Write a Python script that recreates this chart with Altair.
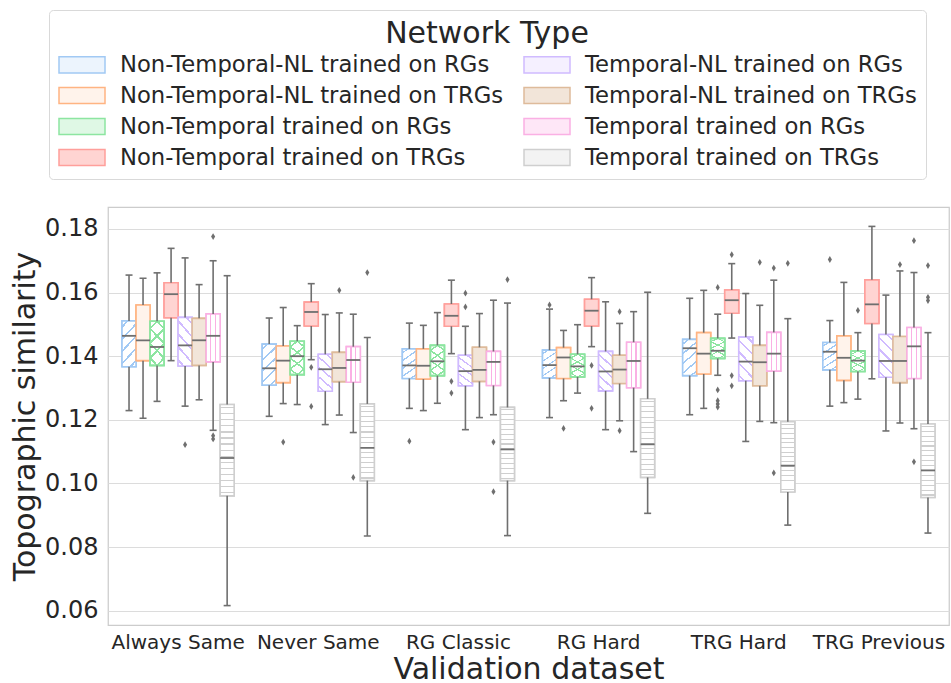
import altair as alt
import pandas as pd

DATASETS = ["Always Same", "Never Same", "RG Classic", "RG Hard", "TRG Hard", "TRG Previous"]
NETWORKS = [
    "Non-Temporal-NL trained on RGs",
    "Non-Temporal-NL trained on TRGs",
    "Non-Temporal trained on RGs",
    "Non-Temporal trained on TRGs",
    "Temporal-NL trained on RGs",
    "Temporal-NL trained on TRGs",
    "Temporal trained on RGs",
    "Temporal trained on TRGs",
]
COLORS = ["#a1c9f4", "#ffb482", "#8de5a1", "#ff9f9b", "#d0bbff", "#debb9b", "#fab0e4", "#cfcfcf"]

# rows: networks (order above), columns: datasets (order above)
WHISKER_LOW = [
    [0.1229, 0.1211, 0.1236, 0.1207, 0.1216, 0.1243],
    [0.1205, 0.1251, 0.1229, 0.1260, 0.1236, 0.1254],
    [0.1258, 0.1248, 0.1252, 0.1284, 0.1340, 0.1265],
    [0.1386, 0.1389, 0.1408, 0.1430, 0.1457, 0.1329],
    [0.1243, 0.1185, 0.1169, 0.1169, 0.1132, 0.1165],
    [0.1263, 0.1215, 0.1207, 0.1197, 0.1195, 0.1190],
    [0.1167, 0.1160, 0.1216, 0.1100, 0.1191, 0.1172],
    [0.0616, 0.0835, 0.0836, 0.0906, 0.0869, 0.0844],
]
Q1 = [
    [0.1367, 0.1309, 0.1330, 0.1332, 0.1339, 0.1357],
    [0.1386, 0.1317, 0.1328, 0.1330, 0.1344, 0.1324],
    [0.1371, 0.1342, 0.1339, 0.1335, 0.1393, 0.1352],
    [0.1521, 0.1495, 0.1494, 0.1495, 0.1535, 0.1503],
    [0.1369, 0.1290, 0.1307, 0.1291, 0.1323, 0.1334],
    [0.1371, 0.1320, 0.1321, 0.1314, 0.1307, 0.1317],
    [0.1382, 0.1318, 0.1308, 0.1301, 0.1353, 0.1330],
    [0.0961, 0.1009, 0.1009, 0.1019, 0.0973, 0.0956],
]
MEDIAN = [
    [0.1464, 0.1362, 0.1371, 0.1372, 0.1425, 0.1414],
    [0.1450, 0.1386, 0.1370, 0.1396, 0.1408, 0.1395],
    [0.1429, 0.1400, 0.1384, 0.1368, 0.1417, 0.1386],
    [0.1595, 0.1539, 0.1527, 0.1543, 0.1576, 0.1563],
    [0.1434, 0.1359, 0.1353, 0.1352, 0.1383, 0.1385],
    [0.1450, 0.1363, 0.1357, 0.1358, 0.1381, 0.1385],
    [0.1464, 0.1388, 0.1382, 0.1385, 0.1408, 0.1431],
    [0.1080, 0.1112, 0.1107, 0.1123, 0.1056, 0.1041],
]
Q3 = [
    [0.1511, 0.1438, 0.1423, 0.1419, 0.1453, 0.1443],
    [0.1561, 0.1432, 0.1423, 0.1427, 0.1474, 0.1464],
    [0.1510, 0.1447, 0.1434, 0.1406, 0.1456, 0.1416],
    [0.1631, 0.1570, 0.1564, 0.1579, 0.1608, 0.1640],
    [0.1522, 0.1406, 0.1403, 0.1415, 0.1460, 0.1468],
    [0.1519, 0.1412, 0.1428, 0.1403, 0.1434, 0.1462],
    [0.1533, 0.1430, 0.1415, 0.1444, 0.1475, 0.1490],
    [0.1248, 0.1250, 0.1239, 0.1266, 0.1194, 0.1187],
]
WHISKER_HIGH = [
    [0.1655, 0.1520, 0.1504, 0.1548, 0.1582, 0.1512],
    [0.1645, 0.1553, 0.1497, 0.1481, 0.1607, 0.1632],
    [0.1662, 0.1496, 0.1537, 0.1499, 0.1532, 0.1474],
    [0.1739, 0.1628, 0.1639, 0.1647, 0.1691, 0.1808],
    [0.1709, 0.1531, 0.1494, 0.1571, 0.1597, 0.1592],
    [0.1625, 0.1536, 0.1534, 0.1503, 0.1560, 0.1668],
    [0.1700, 0.1532, 0.1576, 0.1540, 0.1639, 0.1663],
    [0.1653, 0.1459, 0.1567, 0.1601, 0.1518, 0.1474],
]

# outliers: dataset index, network index, value
OUT_DATASET = [0, 0, 0, 0,
               1, 1, 1, 1, 1, 1,
               2, 2, 2, 2, 2, 2, 2, 2,
               3, 3, 3, 3, 3, 3,
               4, 4, 4, 4, 4, 4, 4, 4, 4, 4, 4, 4,
               5, 5, 5, 5, 5, 5, 5, 5]
OUT_NETWORK = [4, 6, 6, 6,
               1, 3, 3, 5, 6, 7,
               0, 3, 3, 4, 4, 6, 6, 7,
               0, 1, 3, 3, 5, 5,
               2, 2, 2, 2, 2, 3, 3, 3, 5, 6, 6, 7,
               0, 2, 5, 6, 6, 7, 7, 7]
OUT_VALUE = [0.1122, 0.1776, 0.1150, 0.1140,
             0.1130, 0.1365, 0.1242, 0.1607, 0.1019, 0.1663,
             0.1133, 0.1321, 0.1284, 0.1598, 0.1555, 0.1130, 0.0974, 0.1641,
             0.1561, 0.1173, 0.1371, 0.1236, 0.1540, 0.1166,
             0.1616, 0.1294, 0.1260, 0.1250, 0.1240, 0.1719, 0.1339, 0.1307, 0.1695, 0.1677, 0.1033, 0.1692,
             0.1704, 0.1544, 0.1688, 0.1763, 0.1068, 0.1685, 0.1585, 0.1575]

rows = []
for i, net in enumerate(NETWORKS):
    for j, ds in enumerate(DATASETS):
        rows.append({"dataset": ds, "network": net, "low": WHISKER_LOW[i][j], "q1": Q1[i][j],
                     "median": MEDIAN[i][j], "q3": Q3[i][j], "high": WHISKER_HIGH[i][j]})
df = pd.DataFrame(rows)
out_df = pd.DataFrame({"dataset": [DATASETS[k] for k in OUT_DATASET],
                       "network": [NETWORKS[k] for k in OUT_NETWORK],
                       "value": OUT_VALUE})

GRAY = "#6f6f6f"
TEXT = "#262626"
FONT = "DejaVu Sans"
YTITLE = "Topographic similarity"


def tint(hexcol, a):
    r, g, b = (int(hexcol[k:k + 2], 16) for k in (1, 3, 5))
    mix = lambda c: round(a * c + (1 - a) * 255)
    return "#%02x%02x%02x" % (mix(r), mix(g), mix(b))


def stripes(positions, half, color, bg, x1, y1, x2, y2):
    stops = [alt.GradientStop(offset=0, color=bg)]
    for p in positions:
        a, b = max(p - half, 0.0), min(p + half, 1.0)
        stops += [alt.GradientStop(offset=a, color=bg), alt.GradientStop(offset=a, color=color),
                  alt.GradientStop(offset=b, color=color), alt.GradientStop(offset=b, color=bg)]
    stops.append(alt.GradientStop(offset=1, color=bg))
    return alt.LinearGradient(gradient="linear", stops=stops, x1=x1, y1=y1, x2=x2, y2=y2)


def fwd(color, n, half, bg):      # "/" hatch
    return stripes([(k + 0.5) / n for k in range(n)], half, color, bg, 0, 0, 0.4, 1.2)


def back(color, n, half, bg):     # "\" hatch
    return stripes([(k + 0.5) / n for k in range(n)], half, color, bg, 0, 1, 0.4, -0.2)


def vert(color, n, half, bg):     # "|" hatch
    return stripes([k / n for k in range(1, n)], half, color, bg, 0, 0, 1, 0)


def horiz(color, n, half, bg):    # "-" hatch
    return stripes([(k + 0.5) / n for k in range(n)], half, color, bg, 0, 0, 0, 1)


W = "white"
T = "rgba(255,255,255,0)"
FILLS = [
    [fwd(COLORS[0], 5, 0.02, W)],
    [tint(COLORS[1], 0.16)],
    [fwd(COLORS[2], 4, 0.022, W), back(COLORS[2], 4, 0.022, T)],
    [tint(COLORS[3], 0.45)],
    [back(COLORS[4], 5, 0.02, W)],
    [tint(COLORS[5], 0.38)],
    [vert(COLORS[6], 3, 0.04, W)],
    [horiz(COLORS[7], 15, 0.007, W)],
]
# light swatch tints for the legend (stand-in for the hatch)
LEGEND_TINT = [0.2, 0.16, 0.28, 0.45, 0.22, 0.38, 0.3, 0.25]


def ex():
    return alt.X("dataset:N", sort=DATASETS, title="Validation dataset",
                 scale=alt.Scale(domain=DATASETS, paddingInner=0.2, paddingOuter=0.1))


def exo():
    return alt.XOffset("network:N", sort=NETWORKS,
                       scale=alt.Scale(domain=NETWORKS, paddingInner=0, paddingOuter=0))


def ey(field):
    return alt.Y(field, type="quantitative", title=YTITLE,
                 scale=alt.Scale(domain=[0.0555, 0.1869], nice=False, zero=False),
                 axis=alt.Axis(values=[0.06, 0.08, 0.10, 0.12, 0.14, 0.16, 0.18], format=".2f"))


LEGEND = alt.Legend(
    title="Network Type", orient="none", legendX=-59, legendY=-197, columns=2,
    symbolType="M-1,-0.7H3V0.7H-1Z", symbolSize=529, symbolStrokeWidth=1.5,
    labelFontSize=22.7, labelColor=TEXT, labelFont=FONT, labelLimit=600, labelOffset=37,
    titleFontSize=30, titleFont=FONT, titleColor=TEXT, titleFontWeight="normal",
    titleLimit=1000, titleAnchor="middle", titlePadding=3, rowPadding=6,
    columnPadding=17, padding=9,
    strokeColor="#d9d9d9", fillColor="white", cornerRadius=4,
)

base = alt.Chart(df)
layers = []

# legend-carrying layer (fully covered by the hatch layers below)
layers.append(
    base.mark_bar(strokeWidth=1.6)
    .encode(
        x=ex(), xOffset=exo(), y=ey("q1"), y2="q3",
        fill=alt.Fill("network:N", scale=alt.Scale(domain=NETWORKS,
                                                   range=[tint(c, a) for c, a in zip(COLORS, LEGEND_TINT)]),
                      legend=LEGEND),
        stroke=alt.Stroke("network:N", scale=alt.Scale(domain=NETWORKS, range=COLORS), legend=LEGEND),
    )
)

# box fills (hatch imitation) with outlines
for i, net in enumerate(NETWORKS):
    for f in FILLS[i]:
        layers.append(
            base.transform_filter(alt.datum.network == net)
            .mark_bar(fill=f, stroke=COLORS[i], strokeWidth=1.6)
            .encode(x=ex(), xOffset=exo(), y=ey("q1"), y2="q3")
        )

# whiskers
layers.append(base.mark_rule(color=GRAY, strokeWidth=1.6)
              .encode(x=ex(), xOffset=exo(), y=ey("low"), y2="q1"))
layers.append(base.mark_rule(color=GRAY, strokeWidth=1.6)
              .encode(x=ex(), xOffset=exo(), y=ey("q3"), y2="high"))
# caps
layers.append(base.mark_tick(color=GRAY, size=7, thickness=1.6, opacity=1)
              .encode(x=ex(), xOffset=exo(), y=ey("low")))
layers.append(base.mark_tick(color=GRAY, size=7, thickness=1.6, opacity=1)
              .encode(x=ex(), xOffset=exo(), y=ey("high")))
# median
layers.append(base.mark_tick(color=GRAY, size=14, thickness=1.8, opacity=1)
              .encode(x=ex(), xOffset=exo(), y=ey("median")))
# outliers
layers.append(alt.Chart(out_df).mark_point(shape="M0,-1L0.6,0L0,1L-0.6,0Z", size=46, filled=True,
                                           color=GRAY, opacity=1)
              .encode(x=ex(), xOffset=exo(), y=ey("value")))

chart = (
    alt.layer(*layers)
    .properties(width=841, height=418, autosize=alt.AutoSizeParams(type="none"),
                padding={"left": 108, "top": 207, "right": 2, "bottom": 58})
    .configure(font=FONT)
    .configure_view(stroke="#cccccc", strokeWidth=1.25)
    .configure_axisX(labelFontSize=20, labelAngle=0, labelColor=TEXT, titleFontSize=30, titleColor=TEXT,
                     titleFontWeight="normal", ticks=False, domain=False, grid=False,
                     labelPadding=7, titlePadding=2)
    .configure_axisY(labelFontSize=24, labelColor=TEXT, titleFontSize=30, titleColor=TEXT,
                     titleFontWeight="normal", ticks=False, domain=False, grid=True,
                     gridColor="#dcdcdc", gridWidth=1, labelPadding=10, titlePadding=4)
)

chart.save("out.html", embed_options={"renderer": "svg", "actions": False})
